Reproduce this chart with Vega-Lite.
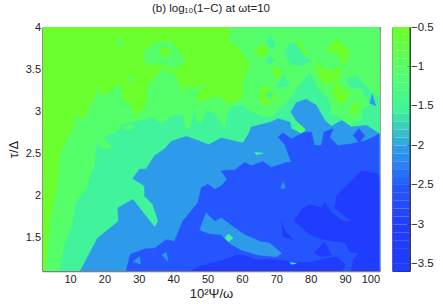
{"$schema":"https://vega.github.io/schema/vega-lite/v6.json","background":"white","padding":{"left":6.5,"top":2,"right":0,"bottom":0},"spacing":11,"config":{"view":{"stroke":null},"axis":{"labelFont":"Liberation Sans","titleFont":"Liberation Sans","labelFontSize":11,"titleFontSize":13,"labelColor":"#222","titleColor":"#222","titleFontWeight":"normal","grid":false,"tickSize":-3,"tickColor":"#333","labelPadding":5}},"datasets":{"pts":[
{"p":0,"v":-0.5,"x":2,"y":1.1},{"p":0,"v":-0.5,"x":100,"y":1.1},{"p":0,"v":-0.5,"x":100,"y":4},{"p":0,"v":-0.5,"x":2,"y":4},
{"p":1,"v":-1,"x":3,"y":1.1},{"p":1,"v":-1,"x":4.5,"y":1.71},{"p":1,"v":-1,"x":6.4,"y":2.11},{"p":1,"v":-1,"x":7.2,"y":2.5},{"p":1,"v":-1,"x":9.8,"y":2.71},{"p":1,"v":-1,"x":11.5,"y":2.85},{"p":1,"v":-1,"x":10.8,"y":2.91},{"p":1,"v":-1,"x":12.4,"y":2.95},{"p":1,"v":-1,"x":14.2,"y":2.89},{"p":1,"v":-1,"x":16.1,"y":3.09},{"p":1,"v":-1,"x":17.7,"y":3.18},{"p":1,"v":-1,"x":17.8,"y":3.32},{"p":1,"v":-1,"x":18.6,"y":3.2},{"p":1,"v":-1,"x":20.6,"y":3.2},{"p":1,"v":-1,"x":22.9,"y":3.28},{"p":1,"v":-1,"x":24.7,"y":3.32},{"p":1,"v":-1,"x":25.1,"y":3.16},{"p":1,"v":-1,"x":28.3,"y":3.04},{"p":1,"v":-1,"x":28.7,"y":2.92},{"p":1,"v":-1,"x":31.7,"y":3.03},{"p":1,"v":-1,"x":32.6,"y":3.16},{"p":1,"v":-1,"x":32.6,"y":3.3},{"p":1,"v":-1,"x":35.1,"y":3.42},{"p":1,"v":-1,"x":36.5,"y":3.5},{"p":1,"v":-1,"x":39.9,"y":3.46},{"p":1,"v":-1,"x":41.9,"y":3.32},{"p":1,"v":-1,"x":43.3,"y":3.18},{"p":1,"v":-1,"x":43.5,"y":3.3},{"p":1,"v":-1,"x":45.7,"y":3.26},{"p":1,"v":-1,"x":49.1,"y":3.32},{"p":1,"v":-1,"x":46.2,"y":3.16},{"p":1,"v":-1,"x":48.2,"y":3.12},{"p":1,"v":-1,"x":53,"y":3.18},{"p":1,"v":-1,"x":56.4,"y":3.08},{"p":1,"v":-1,"x":60.3,"y":3.16},{"p":1,"v":-1,"x":60.3,"y":3.32},{"p":1,"v":-1,"x":62.3,"y":3.56},{"p":1,"v":-1,"x":58.9,"y":3.76},{"p":1,"v":-1,"x":56.4,"y":3.82},{"p":1,"v":-1,"x":56.9,"y":4},{"p":1,"v":-1,"x":100,"y":4},{"p":1,"v":-1,"x":100,"y":1.1},
{"p":2,"v":-1,"x":31.2,"y":3.62},{"p":2,"v":-1,"x":32.1,"y":3.74},{"p":2,"v":-1,"x":35.5,"y":3.83},{"p":2,"v":-1,"x":39.4,"y":3.82},{"p":2,"v":-1,"x":42.8,"y":3.66},{"p":2,"v":-1,"x":43.3,"y":3.58},{"p":2,"v":-1,"x":40.4,"y":3.5},{"p":2,"v":-1,"x":36,"y":3.56},{"p":2,"v":-1,"x":32.6,"y":3.55},
{"p":3,"v":-0.5,"x":35.7,"y":3.7},{"p":3,"v":-0.5,"x":37.5,"y":3.78},{"p":3,"v":-0.5,"x":39.4,"y":3.7},{"p":3,"v":-0.5,"x":37.5,"y":3.64},
{"p":4,"v":-1,"x":23.4,"y":3.78},{"p":4,"v":-1,"x":24.4,"y":3.89},{"p":4,"v":-1,"x":25.3,"y":3.78},
{"p":5,"v":-1,"x":26.8,"y":3.38},{"p":5,"v":-1,"x":28,"y":3.42},{"p":5,"v":-1,"x":28.5,"y":3.36},{"p":5,"v":-1,"x":27.6,"y":3.34},
{"p":6,"v":-0.5,"x":63.2,"y":3.7},{"p":6,"v":-0.5,"x":66.1,"y":3.8},{"p":6,"v":-0.5,"x":67.6,"y":3.72},{"p":6,"v":-0.5,"x":66.1,"y":3.64},
{"p":7,"v":-0.5,"x":74.9,"y":3.84},{"p":7,"v":-0.5,"x":76.8,"y":3.82},{"p":7,"v":-0.5,"x":79.2,"y":3.66},{"p":7,"v":-0.5,"x":77.3,"y":3.7},{"p":7,"v":-0.5,"x":75.4,"y":3.76},
{"p":8,"v":-0.5,"x":84.6,"y":3.74},{"p":8,"v":-0.5,"x":87.5,"y":3.86},{"p":8,"v":-0.5,"x":91.4,"y":3.72},{"p":8,"v":-0.5,"x":89.9,"y":3.54},{"p":8,"v":-0.5,"x":88,"y":3.66},
{"p":9,"v":-0.5,"x":81.2,"y":3.56},{"p":9,"v":-0.5,"x":86,"y":3.48},{"p":9,"v":-0.5,"x":89,"y":3.54},{"p":9,"v":-0.5,"x":88,"y":3.36},{"p":9,"v":-0.5,"x":84.1,"y":3.32},{"p":9,"v":-0.5,"x":82.2,"y":3.42},
{"p":10,"v":-0.5,"x":86,"y":3.28},{"p":10,"v":-0.5,"x":87.5,"y":3.34},{"p":10,"v":-0.5,"x":91.4,"y":3.2},{"p":10,"v":-0.5,"x":89,"y":3.08},{"p":10,"v":-0.5,"x":87,"y":3.14},
{"p":11,"v":-0.5,"x":65.2,"y":3.26},{"p":11,"v":-0.5,"x":67.1,"y":3.3},{"p":11,"v":-0.5,"x":70.5,"y":3.18},{"p":11,"v":-0.5,"x":67.6,"y":3.08},{"p":11,"v":-0.5,"x":65.7,"y":3.08},{"p":11,"v":-0.5,"x":65.2,"y":3.18},
{"p":12,"v":-0.5,"x":68.6,"y":3.5},{"p":12,"v":-0.5,"x":70,"y":3.54},{"p":12,"v":-0.5,"x":71.5,"y":3.42},{"p":12,"v":-0.5,"x":70,"y":3.38},
{"p":13,"v":-0.5,"x":91.9,"y":3.08},{"p":13,"v":-0.5,"x":94.3,"y":3.1},{"p":13,"v":-0.5,"x":92.8,"y":2.97},{"p":13,"v":-0.5,"x":91.4,"y":2.97},
{"p":14,"v":-1.5,"x":6.9,"y":1.1},{"p":14,"v":-1.5,"x":8.4,"y":1.39},{"p":14,"v":-1.5,"x":10.8,"y":1.67},{"p":14,"v":-1.5,"x":11.8,"y":1.91},{"p":14,"v":-1.5,"x":15.2,"y":2.11},{"p":14,"v":-1.5,"x":16.1,"y":2.25},{"p":14,"v":-1.5,"x":17.1,"y":2.35},{"p":14,"v":-1.5,"x":17.6,"y":2.5},{"p":14,"v":-1.5,"x":17.9,"y":2.61},{"p":14,"v":-1.5,"x":19.5,"y":2.55},{"p":14,"v":-1.5,"x":22.4,"y":2.55},{"p":14,"v":-1.5,"x":20,"y":2.69},{"p":14,"v":-1.5,"x":23.4,"y":2.75},{"p":14,"v":-1.5,"x":25.3,"y":2.84},{"p":14,"v":-1.5,"x":29,"y":2.87},{"p":14,"v":-1.5,"x":32.6,"y":2.91},{"p":14,"v":-1.5,"x":33.6,"y":2.93},{"p":14,"v":-1.5,"x":36.5,"y":2.85},{"p":14,"v":-1.5,"x":39.9,"y":2.95},{"p":14,"v":-1.5,"x":42.8,"y":2.95},{"p":14,"v":-1.5,"x":43.3,"y":2.79},{"p":14,"v":-1.5,"x":44.8,"y":2.79},{"p":14,"v":-1.5,"x":46.2,"y":2.99},{"p":14,"v":-1.5,"x":46.7,"y":2.89},{"p":14,"v":-1.5,"x":48.2,"y":2.85},{"p":14,"v":-1.5,"x":49.6,"y":3.01},{"p":14,"v":-1.5,"x":52,"y":2.97},{"p":14,"v":-1.5,"x":55,"y":2.79},{"p":14,"v":-1.5,"x":55.9,"y":2.97},{"p":14,"v":-1.5,"x":56.9,"y":3.05},{"p":14,"v":-1.5,"x":59.8,"y":3.07},{"p":14,"v":-1.5,"x":62.7,"y":2.99},{"p":14,"v":-1.5,"x":66.6,"y":2.93},{"p":14,"v":-1.5,"x":69,"y":2.93},{"p":14,"v":-1.5,"x":71,"y":3.03},{"p":14,"v":-1.5,"x":73.4,"y":3.11},{"p":14,"v":-1.5,"x":75.8,"y":3.26},{"p":14,"v":-1.5,"x":79.7,"y":3.46},{"p":14,"v":-1.5,"x":82.2,"y":3.26},{"p":14,"v":-1.5,"x":85.1,"y":3.14},{"p":14,"v":-1.5,"x":86,"y":2.95},{"p":14,"v":-1.5,"x":87.5,"y":2.95},{"p":14,"v":-1.5,"x":90.9,"y":2.83},{"p":14,"v":-1.5,"x":94.8,"y":2.89},{"p":14,"v":-1.5,"x":95.3,"y":3.01},{"p":14,"v":-1.5,"x":97.2,"y":3.09},{"p":14,"v":-1.5,"x":94.8,"y":3.26},{"p":14,"v":-1.5,"x":91.4,"y":3.3},{"p":14,"v":-1.5,"x":90.4,"y":3.38},{"p":14,"v":-1.5,"x":93.3,"y":3.42},{"p":14,"v":-1.5,"x":97.2,"y":3.24},{"p":14,"v":-1.5,"x":100,"y":3.16},{"p":14,"v":-1.5,"x":100,"y":1.1},
{"p":15,"v":-1.5,"x":72.4,"y":3.7},{"p":15,"v":-1.5,"x":73.9,"y":3.82},{"p":15,"v":-1.5,"x":75.8,"y":3.8},{"p":15,"v":-1.5,"x":78.8,"y":3.62},{"p":15,"v":-1.5,"x":80.2,"y":3.6},{"p":15,"v":-1.5,"x":77.3,"y":3.54},{"p":15,"v":-1.5,"x":73.9,"y":3.56},
{"p":16,"v":-1.5,"x":67,"y":3.82},{"p":16,"v":-1.5,"x":68.4,"y":3.9},{"p":16,"v":-1.5,"x":69.8,"y":3.78},{"p":16,"v":-1.5,"x":68.4,"y":3.74},
{"p":17,"v":-1.5,"x":66.8,"y":3.6},{"p":17,"v":-1.5,"x":68.1,"y":3.66},{"p":17,"v":-1.5,"x":69.4,"y":3.6},{"p":17,"v":-1.5,"x":68.1,"y":3.54},
{"p":18,"v":-1.5,"x":70,"y":3.28},{"p":18,"v":-1.5,"x":72,"y":3.43},{"p":18,"v":-1.5,"x":73.9,"y":3.3},
{"p":19,"v":-1.5,"x":67,"y":3.19},{"p":19,"v":-1.5,"x":68.1,"y":3.24},{"p":19,"v":-1.5,"x":69.2,"y":3.19},{"p":19,"v":-1.5,"x":68.1,"y":3.14},
{"p":20,"v":-1,"x":25.6,"y":2.81},{"p":20,"v":-1,"x":28.3,"y":2.84},{"p":20,"v":-1,"x":28.3,"y":2.79},{"p":20,"v":-1,"x":25.8,"y":2.78},
{"p":21,"v":-2,"x":13,"y":1.1},{"p":21,"v":-2,"x":18,"y":1.49},{"p":21,"v":-2,"x":24.1,"y":1.69},{"p":21,"v":-2,"x":23.9,"y":1.85},{"p":21,"v":-2,"x":28.3,"y":1.95},{"p":21,"v":-2,"x":34.6,"y":1.62},{"p":21,"v":-2,"x":35.7,"y":1.69},{"p":21,"v":-2,"x":34.1,"y":1.89},{"p":21,"v":-2,"x":31.7,"y":1.99},{"p":21,"v":-2,"x":31.7,"y":2.11},{"p":21,"v":-2,"x":28.3,"y":2.2},{"p":21,"v":-2,"x":30.2,"y":2.31},{"p":21,"v":-2,"x":32.1,"y":2.31},{"p":21,"v":-2,"x":34.6,"y":2.47},{"p":21,"v":-2,"x":37.5,"y":2.55},{"p":21,"v":-2,"x":39.4,"y":2.64},{"p":21,"v":-2,"x":43.8,"y":2.7},{"p":21,"v":-2,"x":47.2,"y":2.65},{"p":21,"v":-2,"x":50.3,"y":2.6},{"p":21,"v":-2,"x":54,"y":2.68},{"p":21,"v":-2,"x":60.3,"y":2.62},{"p":21,"v":-2,"x":62.2,"y":2.75},{"p":21,"v":-2,"x":62.7,"y":2.81},{"p":21,"v":-2,"x":68.5,"y":2.87},{"p":21,"v":-2,"x":70.5,"y":2.91},{"p":21,"v":-2,"x":73.9,"y":2.87},{"p":21,"v":-2,"x":74.4,"y":2.79},{"p":21,"v":-2,"x":77.3,"y":2.73},{"p":21,"v":-2,"x":78.7,"y":2.77},{"p":21,"v":-2,"x":75.8,"y":2.89},{"p":21,"v":-2,"x":74.2,"y":2.99},{"p":21,"v":-2,"x":75.8,"y":3.1},{"p":21,"v":-2,"x":78.7,"y":3.14},{"p":21,"v":-2,"x":81.6,"y":3.07},{"p":21,"v":-2,"x":84.1,"y":2.89},{"p":21,"v":-2,"x":86,"y":2.82},{"p":21,"v":-2,"x":89.1,"y":2.89},{"p":21,"v":-2,"x":91.8,"y":2.81},{"p":21,"v":-2,"x":96.2,"y":2.83},{"p":21,"v":-2,"x":100,"y":2.73},{"p":21,"v":-2,"x":100,"y":1.1},
{"p":22,"v":-1,"x":75.3,"y":2.81},{"p":22,"v":-1,"x":76.8,"y":2.84},{"p":22,"v":-1,"x":78.2,"y":2.79},{"p":22,"v":-1,"x":76.8,"y":2.75},
{"p":23,"v":-2,"x":97.2,"y":3.09},{"p":23,"v":-2,"x":97.9,"y":3.2},{"p":23,"v":-2,"x":98.9,"y":3.06},
{"p":24,"v":-2.5,"x":26.3,"y":1.1},{"p":24,"v":-2.5,"x":27.6,"y":1.3},{"p":24,"v":-2.5,"x":31.7,"y":1.36},{"p":24,"v":-2.5,"x":34.6,"y":1.37},{"p":24,"v":-2.5,"x":38,"y":1.47},{"p":24,"v":-2.5,"x":40.4,"y":1.45},{"p":24,"v":-2.5,"x":42.8,"y":1.69},{"p":24,"v":-2.5,"x":47.2,"y":1.91},{"p":24,"v":-2.5,"x":48.2,"y":2.09},{"p":24,"v":-2.5,"x":50.1,"y":2.13},{"p":24,"v":-2.5,"x":52.1,"y":2.07},{"p":24,"v":-2.5,"x":54,"y":2.11},{"p":24,"v":-2.5,"x":55.7,"y":2.19},{"p":24,"v":-2.5,"x":54,"y":2.29},{"p":24,"v":-2.5,"x":57.9,"y":2.3},{"p":24,"v":-2.5,"x":60.8,"y":2.39},{"p":24,"v":-2.5,"x":62.7,"y":2.35},{"p":24,"v":-2.5,"x":66.1,"y":2.4},{"p":24,"v":-2.5,"x":68.6,"y":2.33},{"p":24,"v":-2.5,"x":72.9,"y":2.39},{"p":24,"v":-2.5,"x":74.4,"y":2.39},{"p":24,"v":-2.5,"x":72.4,"y":2.61},{"p":24,"v":-2.5,"x":70.5,"y":2.69},{"p":24,"v":-2.5,"x":71.9,"y":2.74},{"p":24,"v":-2.5,"x":74.4,"y":2.67},{"p":24,"v":-2.5,"x":78.2,"y":2.75},{"p":24,"v":-2.5,"x":80.2,"y":2.75},{"p":24,"v":-2.5,"x":81.1,"y":2.59},{"p":24,"v":-2.5,"x":83.1,"y":2.59},{"p":24,"v":-2.5,"x":83.9,"y":2.75},{"p":24,"v":-2.5,"x":86.5,"y":2.79},{"p":24,"v":-2.5,"x":85.5,"y":2.69},{"p":24,"v":-2.5,"x":87.9,"y":2.59},{"p":24,"v":-2.5,"x":91.8,"y":2.61},{"p":24,"v":-2.5,"x":96.2,"y":2.65},{"p":24,"v":-2.5,"x":100,"y":2.73},{"p":24,"v":-2.5,"x":100,"y":1.1},
{"p":25,"v":-2.5,"x":92.3,"y":2.71},{"p":25,"v":-2.5,"x":94,"y":2.79},{"p":25,"v":-2.5,"x":95.7,"y":2.71},{"p":25,"v":-2.5,"x":94,"y":2.62},
{"p":26,"v":-2,"x":47.7,"y":1.585},{"p":26,"v":-2,"x":49.6,"y":1.79},{"p":26,"v":-2,"x":52.1,"y":1.69},{"p":26,"v":-2,"x":54,"y":1.73},{"p":26,"v":-2,"x":57.9,"y":1.61},{"p":26,"v":-2,"x":60.8,"y":1.53},{"p":26,"v":-2,"x":65.2,"y":1.45},{"p":26,"v":-2,"x":68.1,"y":1.43},{"p":26,"v":-2,"x":71.5,"y":1.31},{"p":26,"v":-2,"x":70,"y":1.27},{"p":26,"v":-2,"x":64.7,"y":1.29},{"p":26,"v":-2,"x":59.8,"y":1.35},{"p":26,"v":-2,"x":56.4,"y":1.43},{"p":26,"v":-2,"x":54,"y":1.53},{"p":26,"v":-2,"x":50.1,"y":1.55},
{"p":27,"v":-1.5,"x":55,"y":1.49},{"p":27,"v":-1.5,"x":56.1,"y":1.54},{"p":27,"v":-1.5,"x":57.4,"y":1.49},{"p":27,"v":-1.5,"x":56.1,"y":1.45},
{"p":28,"v":-2,"x":28.3,"y":1.21},{"p":28,"v":-2,"x":30.2,"y":1.27},{"p":28,"v":-2,"x":30.5,"y":1.18},
{"p":29,"v":-2,"x":36.7,"y":1.29},{"p":29,"v":-2,"x":38,"y":1.32},{"p":29,"v":-2,"x":38.5,"y":1.21},
{"p":30,"v":-2,"x":71.3,"y":2.08},{"p":30,"v":-2,"x":72,"y":2.16},{"p":30,"v":-2,"x":72.6,"y":2.08},
{"p":31,"v":-1.5,"x":63.7,"y":2.51},{"p":31,"v":-1.5,"x":66.1,"y":2.5},{"p":31,"v":-1.5,"x":64.2,"y":2.48},
{"p":32,"v":-3.2,"x":75.2,"y":1.69},{"p":32,"v":-3.2,"x":77.3,"y":1.83},{"p":32,"v":-3.2,"x":79.7,"y":1.89},{"p":32,"v":-3.2,"x":83.1,"y":1.85},{"p":32,"v":-3.2,"x":84.1,"y":1.92},{"p":32,"v":-3.2,"x":85.6,"y":1.81},{"p":32,"v":-3.2,"x":89.4,"y":1.69},{"p":32,"v":-3.2,"x":91.9,"y":1.69},{"p":32,"v":-3.2,"x":87,"y":1.85},{"p":32,"v":-3.2,"x":87.5,"y":1.99},{"p":32,"v":-3.2,"x":90.4,"y":2.11},{"p":32,"v":-3.2,"x":94.8,"y":2.29},{"p":32,"v":-3.2,"x":99.6,"y":2.25},{"p":32,"v":-3.2,"x":100,"y":2.2},{"p":32,"v":-3.2,"x":100,"y":1.1},{"p":32,"v":-3.2,"x":91.9,"y":1.1},{"p":32,"v":-3.2,"x":92.3,"y":1.23},{"p":32,"v":-3.2,"x":94.1,"y":1.31},{"p":32,"v":-3.2,"x":91.4,"y":1.33},{"p":32,"v":-3.2,"x":89.9,"y":1.44},{"p":32,"v":-3.2,"x":83.1,"y":1.48},{"p":32,"v":-3.2,"x":79.2,"y":1.55},
{"p":33,"v":-3.2,"x":45.3,"y":1.1},{"p":33,"v":-3.2,"x":48.2,"y":1.16},{"p":33,"v":-3.2,"x":54,"y":1.22},{"p":33,"v":-3.2,"x":57.9,"y":1.28},{"p":33,"v":-3.2,"x":60.3,"y":1.29},{"p":33,"v":-3.2,"x":64.2,"y":1.23},{"p":33,"v":-3.2,"x":68.6,"y":1.24},{"p":33,"v":-3.2,"x":72.4,"y":1.22},{"p":33,"v":-3.2,"x":74.9,"y":1.2},{"p":33,"v":-3.2,"x":80.2,"y":1.2},{"p":33,"v":-3.2,"x":83.1,"y":1.235},{"p":33,"v":-3.2,"x":87.5,"y":1.27},{"p":33,"v":-3.2,"x":90.1,"y":1.18},{"p":33,"v":-3.2,"x":89,"y":1.1},
{"p":34,"v":-3.2,"x":81,"y":1.31},{"p":34,"v":-3.2,"x":83.9,"y":1.44},{"p":34,"v":-3.2,"x":86,"y":1.29},{"p":34,"v":-3.2,"x":83.1,"y":1.27},
{"p":35,"v":-3.2,"x":71.5,"y":1.69},{"p":35,"v":-3.2,"x":72,"y":1.51},{"p":35,"v":-3.2,"x":74.9,"y":1.47},{"p":35,"v":-3.2,"x":72.4,"y":1.59},
{"p":36,"v":-1.5,"x":73.9,"y":1.2},{"p":36,"v":-1.5,"x":75.8,"y":1.19},{"p":36,"v":-1.5,"x":74.4,"y":1.18}
],"bar":[{"v":-0.5,"w":-0.6},{"v":-0.6,"w":-0.7},{"v":-0.7,"w":-0.8},{"v":-0.8,"w":-0.9},{"v":-0.9,"w":-1},{"v":-1,"w":-1.1},{"v":-1.1,"w":-1.2},{"v":-1.2,"w":-1.3},{"v":-1.3,"w":-1.4},{"v":-1.4,"w":-1.5},{"v":-1.5,"w":-1.6},{"v":-1.6,"w":-1.7},{"v":-1.7,"w":-1.8},{"v":-1.8,"w":-1.9},{"v":-1.9,"w":-2},{"v":-2,"w":-2.1},{"v":-2.1,"w":-2.2},{"v":-2.2,"w":-2.3},{"v":-2.3,"w":-2.4},{"v":-2.4,"w":-2.5},{"v":-2.5,"w":-2.6},{"v":-2.6,"w":-2.7},{"v":-2.7,"w":-2.8},{"v":-2.8,"w":-2.9},{"v":-2.9,"w":-3},{"v":-3,"w":-3.1},{"v":-3.1,"w":-3.2},{"v":-3.2,"w":-3.3},{"v":-3.3,"w":-3.4},{"v":-3.4,"w":-3.5},{"v":-3.5,"w":-3.6}]},
"hconcat":[
{"width":337,"height":244,"title":{"text":"(b) log₁₀(1−C) at ωt=10","font":"Liberation Sans","fontSize":11.5,"fontWeight":"normal","color":"#222","offset":7},"data":{"name":"pts"},"layer":[
{"mark":{"type":"line","clip":true,"strokeWidth":0.6},"encoding":{"order":{"value":null},"detail":{"field":"p","type":"nominal"},"x":{"field":"x","type":"quantitative","scale":{"domain":[2,100],"nice":false},"axis":{"orient":"bottom","title":"10²Ψ/ω","values":[10,20,30,40,50,60,70,80,90,100],"domainColor":"#808080","domainWidth":1.5,"titlePadding":3}},"y":{"field":"y","type":"quantitative","scale":{"domain":[1.1,4],"nice":false},"axis":{"orient":"left","title":"τ/Δ","values":[1.5,2,2.5,3,3.5,4],"format":"~g","domainColor":"#000","titlePadding":5}},"fill":{"field":"v","type":"ordinal","legend":null,"scale":{"domain":[-0.5,-1,-1.5,-2,-2.5,-3.2],"range":["#6cff2e","#55ff69","#41f49b","#2d9bea","#2555ff","#203cff"]}},"stroke":{"field":"v","type":"ordinal","legend":null,"scale":{"domain":[-0.5,-1,-1.5,-2,-2.5,-3.2],"range":["#6cff2e","#55ff69","#41f49b","#2d9bea","#2555ff","#203cff"]}}}},
{"mark":{"type":"line","opacity":0},"encoding":{"order":{"value":null},"x":{"field":"x","type":"quantitative","scale":{"domain":[2,100],"nice":false},"axis":{"orient":"top","title":null,"labels":false,"values":[10,20,30,40,50,60,70,80,90,100],"domainColor":"#000"}},"y":{"field":"y","type":"quantitative","scale":{"domain":[1.1,4],"nice":false},"axis":{"orient":"right","title":null,"labels":false,"values":[1.5,2,2.5,3,3.5,4],"domainColor":"#808080","domainWidth":1.5}}}}
],"resolve":{"axis":{"x":"independent","y":"independent"}}},
{"width":17,"height":244,"view":{"stroke":"#000"},"data":{"name":"bar"},"mark":{"type":"rect"},"encoding":{"y":{"field":"v","type":"quantitative","scale":{"domain":[-3.59,-0.5],"nice":false},"axis":{"orient":"right","title":null,"values":[-3.5,-3,-2.5,-2,-1.5,-1,-0.5],"format":"~g","domainColor":"#000","labelPadding":4,"labelFontSize":11.5}},"y2":{"field":"w"},"fill":{"field":"v","type":"quantitative","legend":null,"scale":{"interpolate":"rgb","domain":[-3.6,-3,-2.5,-2,-1.75,-1.5,-1,-0.5],"range":["#203cff","#203cff","#2555ff","#2d9bea","#38c8c0","#41f49b","#55ff69","#6cff2e"]}}}}
]}
